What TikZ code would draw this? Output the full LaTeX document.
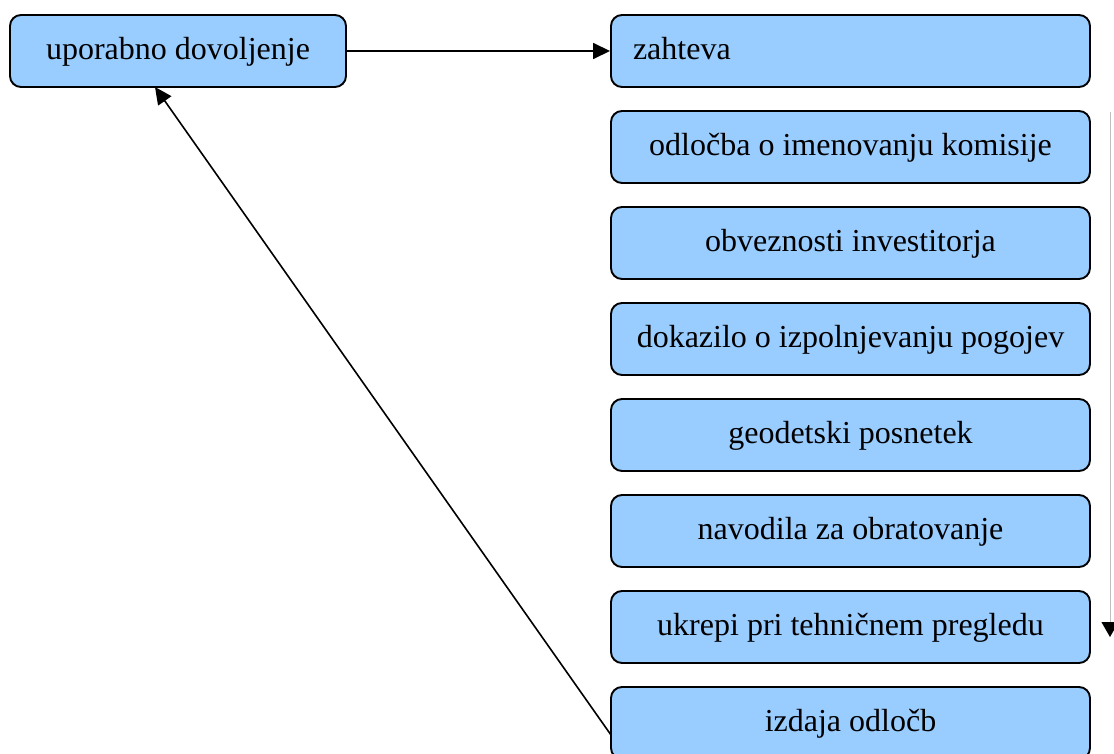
\documentclass[tikz,border=0pt]{standalone}
\usepackage{fontspec}
\setmainfont{Liberation Serif}
\usetikzlibrary{arrows.meta}
\begin{document}
\begin{tikzpicture}[x=1pt,y=-1pt,
  box/.style={draw=black, line width=1.9pt, fill=boxblue, rounded corners=11pt,
    minimum height=72pt, inner sep=0pt, text height=24pt, text depth=7pt,
    font=\fontsize{32}{36}\selectfont},
  wide/.style={box, minimum width=479pt},
  link/.style={line width=1.6pt, -{Triangle[length=17pt,width=16pt]}}]
\definecolor{boxblue}{HTML}{99CCFF}
\useasboundingbox (0,0) rectangle (1114,754);

% left: the permit
\node[box, minimum width=336pt] (uporabno) at (178,51) {uporabno dovoljenje};

% right column: the steps
\node[wide, text width=435pt, align=left, inner xsep=22pt] (zahteva) at (850.5,51) {zahteva};
\node[wide] (odlocba) at (850.5,147) {odločba o imenovanju komisije};
\node[wide] (obveznosti) at (850.5,243) {obveznosti investitorja};
\node[wide] (dokazilo) at (850.5,339) {dokazilo o izpolnjevanju pogojev};
\node[wide] (geodetski) at (850.5,435) {geodetski posnetek};
\node[wide] (navodila) at (850.5,531) {navodila za obratovanje};
\node[wide] (ukrepi) at (850.5,627) {ukrepi pri tehničnem pregledu};
\node[wide] (izdaja) at (850.5,723) {izdaja odločb};

% connectors
\draw[link] (uporabno.east) -- (zahteva.west);
\coordinate (izdajaIn) at (611,735);
\coordinate (uporabnoIn) at (155,87);
\draw[link] (izdajaIn) -- (uporabnoIn);

% sequence marker along the right edge
\coordinate (seqTop) at (1110,112);
\coordinate (seqEnd) at (1110,637);
\draw[gray!50, line width=0.9pt, -{Triangle[black,length=15pt,width=17pt]}] (seqTop) -- (seqEnd);
\end{tikzpicture}
\end{document}
